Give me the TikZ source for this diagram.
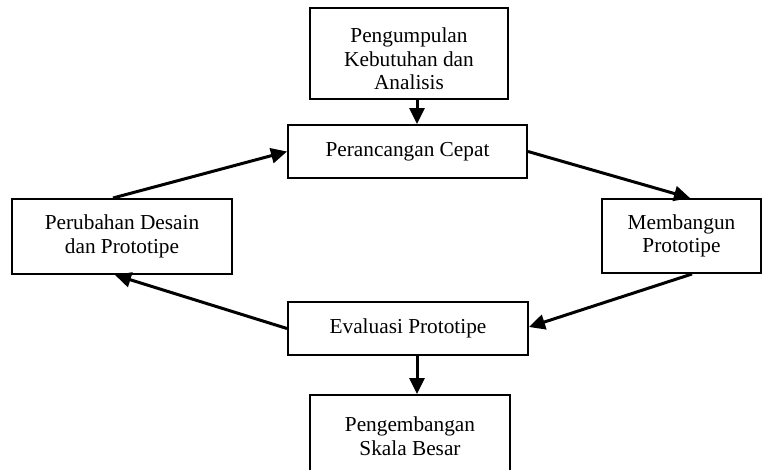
\documentclass[tikz,border=0pt]{standalone}
\usepackage{fontspec}
\setmainfont{Liberation Serif}
\usetikzlibrary{arrows.meta}
\begin{document}
\begin{tikzpicture}[x=1pt,y=1pt,
  box/.style={draw=black, line width=2pt, fill=white, align=center, inner sep=0pt,
    font=\fontsize{21.3}{23.7}\selectfont},
  txt/.style={align=center, inner sep=0pt, font=\fontsize{21.3}{23.7}\selectfont},
  arr/.style={line width=3pt, -{Triangle[length=16pt,width=15pt]}}]
\useasboundingbox (0,0) rectangle (763,-469);
\clip (0,0) rectangle (763,-469);
\node[box, minimum width=198, minimum height=91] (top) at (409,-53.5) {};
\node[txt] (toptext) at (409,-59) {Pengumpulan\\Kebutuhan dan\\Analisis};
\node[box, minimum width=239, minimum height=53] (per) at (407.5,-151.5) {Perancangan Cepat};
\node[box, minimum width=220, minimum height=75] (left) at (122,-236.5) {Perubahan Desain\\dan Prototipe};
\node[box, minimum width=159, minimum height=74] (right) at (681.5,-236) {Membangun\\Prototipe};
\node[box, minimum width=240, minimum height=53] (eva) at (408,-328.5) {Evaluasi Prototipe};
\node[box, minimum width=200, minimum height=83] (bot) at (410,-436.5) {Pengembangan\\Skala Besar};
\draw[arr] ([xshift=8pt]top.south) -- ([xshift=8pt]top.south |- per.north);
\draw[arr] ([xshift=9pt]eva.south) -- ([xshift=9pt]eva.south |- bot.north);
\draw[arr] ([xshift=-9pt]left.north) -- (per.west);
\draw[arr] (per.east) -- ([xshift=8.5pt]right.north);
\draw[arr] ([xshift=10.5pt]right.south) -- ([yshift=1.5pt]eva.east);
\draw[arr] (eva.west) -- ([xshift=-7pt]left.south);
\end{tikzpicture}
\end{document}
